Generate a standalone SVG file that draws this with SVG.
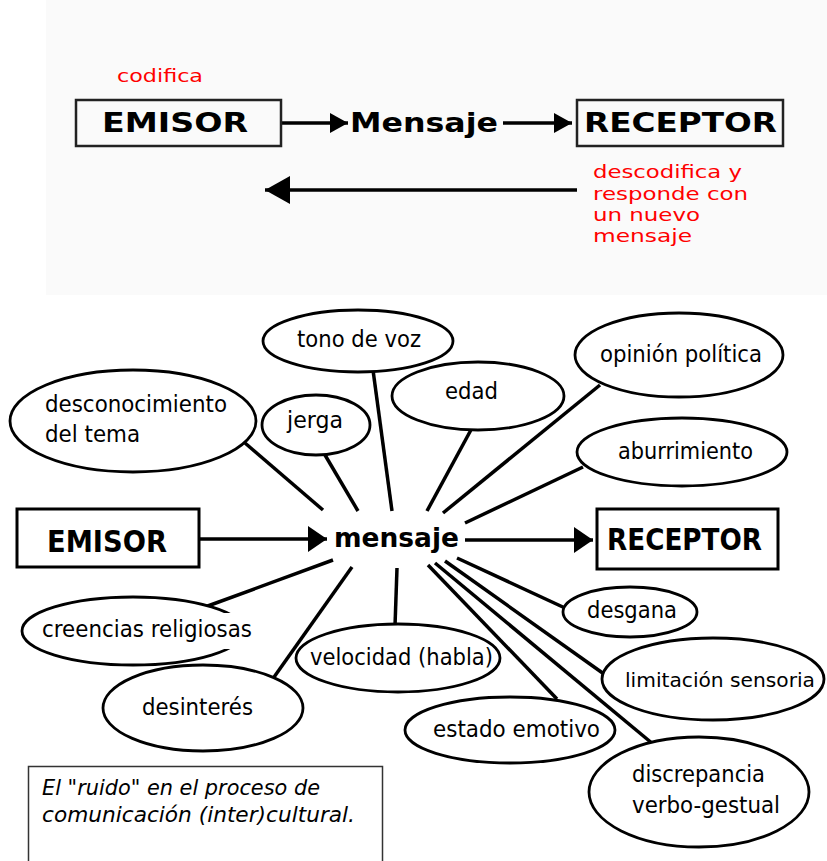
<svg xmlns="http://www.w3.org/2000/svg" width="827" height="861" viewBox="0 0 827 861">
<style>
.bg{fill:#ffffff}
.panel{fill:#fafafa}
.box{fill:none;stroke:#222;stroke-width:2.5}
.box2{fill:#fff;stroke:#000;stroke-width:3}
.ell{fill:#fff;stroke:#000;stroke-width:2.8}
.ln{stroke:#000;stroke-width:3.5;fill:none}
.ar{stroke:#000;stroke-width:3.5;fill:none}
.lbl{font-family:"DejaVu Sans","Verdana",sans-serif;font-size:22.5px;fill:#000}
.bold{font-family:"DejaVu Sans","Verdana",sans-serif;font-weight:bold;fill:#000}
.red{font-family:"DejaVu Sans","Verdana",sans-serif;font-size:18px;fill:#ff0000}
.cap{font-family:"DejaVu Sans","Verdana",sans-serif;font-style:italic;font-size:21px;fill:#000}
</style>
<defs>
<marker id="ahs" markerUnits="userSpaceOnUse" markerWidth="18" markerHeight="20" refX="18" refY="10" orient="auto"><path d="M0,0 L18,10 L0,20 Z" fill="#000"/></marker>
<marker id="ahb" markerUnits="userSpaceOnUse" markerWidth="19" markerHeight="26" refX="19" refY="13" orient="auto"><path d="M0,0 L19,13 L0,26 Z" fill="#000"/></marker>
<marker id="ahl" markerUnits="userSpaceOnUse" markerWidth="25" markerHeight="28" refX="25" refY="14" orient="auto"><path d="M0,0 L25,14 L0,28 Z" fill="#000"/></marker>
</defs>
<rect class="bg" x="0" y="0" width="827" height="861"/>
<rect class="panel" x="46" y="0" width="781" height="295"/>

<g id="connectors-top">
<line class="ar" x1="282" y1="123" x2="348" y2="123" marker-end="url(#ahs)"/>
<line class="ar" x1="503" y1="123" x2="572" y2="123" marker-end="url(#ahs)"/>
<line class="ar" x1="577" y1="190" x2="265" y2="190" stroke-width="4.5" marker-end="url(#ahl)"/>
</g>
<g id="top-codifica"><text class="red" x="117" y="82" textLength="86" lengthAdjust="spacingAndGlyphs">codifica</text></g>
<g id="top-emisor">
<rect class="box" x="76" y="100" width="205" height="46"/>
<text class="bold" x="102" y="132" font-size="26" textLength="146" lengthAdjust="spacingAndGlyphs">EMISOR</text>
</g>
<g id="top-mensaje"><text class="bold" x="350" y="132" font-size="26" textLength="148" lengthAdjust="spacingAndGlyphs">Mensaje</text></g>
<g id="top-receptor">
<rect class="box" x="577" y="100" width="206" height="46"/>
<text class="bold" x="584" y="132" font-size="26" textLength="193" lengthAdjust="spacingAndGlyphs">RECEPTOR</text>
</g>
<g id="top-descodifica">
<text class="red" x="593" y="178" textLength="149" lengthAdjust="spacingAndGlyphs">descodifica y</text>
<text class="red" x="593" y="200" textLength="155" lengthAdjust="spacingAndGlyphs">responde con</text>
<text class="red" x="593" y="221" textLength="107" lengthAdjust="spacingAndGlyphs">un nuevo</text>
<text class="red" x="593" y="242" textLength="99" lengthAdjust="spacingAndGlyphs">mensaje</text>
</g>

<g id="connectors">
<line class="ar" x1="199" y1="539" x2="327" y2="539" marker-end="url(#ahb)"/>
<line class="ar" x1="465" y1="540" x2="593" y2="540" marker-end="url(#ahb)"/>
<line class="ln" x1="323" y1="510" x2="245" y2="443"/>
<line class="ln" x1="358" y1="511" x2="325" y2="455"/>
<line class="ln" x1="392" y1="511" x2="373" y2="370"/>
<line class="ln" x1="427" y1="511" x2="472" y2="428"/>
<line class="ln" x1="443" y1="513" x2="600" y2="385"/>
<line class="ln" x1="465" y1="523" x2="583" y2="467"/>
<line class="ln" x1="333" y1="560" x2="205" y2="607"/>
<line class="ln" x1="352" y1="567" x2="267" y2="687"/>
<line class="ln" x1="397" y1="568" x2="395" y2="626"/>
<line class="ln" x1="428" y1="565" x2="557" y2="699"/>
<line class="ln" x1="435" y1="563" x2="653" y2="744"/>
<line class="ln" x1="445" y1="561" x2="604" y2="674"/>
<line class="ln" x1="457" y1="558" x2="565" y2="608"/>
</g>

<g id="emisor">
<rect class="box2" x="17" y="509" width="182" height="58"/>
<text class="bold" x="47" y="552" font-size="30" textLength="120" lengthAdjust="spacingAndGlyphs">EMISOR</text>
</g>
<g id="mensaje"><text class="bold" x="334" y="547" font-size="27" textLength="125" lengthAdjust="spacingAndGlyphs">mensaje</text></g>
<g id="receptor">
<rect class="box2" x="597" y="509" width="181" height="60"/>
<text class="bold" x="607" y="550" font-size="30" textLength="155" lengthAdjust="spacingAndGlyphs">RECEPTOR</text>
</g>

<g id="tono-de-voz">
<ellipse class="ell" cx="358" cy="341" rx="95" ry="31"/>
<text class="lbl" x="297" y="347" textLength="124" lengthAdjust="spacingAndGlyphs">tono de voz</text>
</g>
<g id="desconocimiento">
<ellipse class="ell" cx="133" cy="421" rx="123" ry="51"/>
<text class="lbl" x="45" y="412" textLength="182" lengthAdjust="spacingAndGlyphs">desconocimiento</text>
<text class="lbl" x="45" y="442" textLength="95" lengthAdjust="spacingAndGlyphs">del tema</text>
</g>
<g id="jerga">
<ellipse class="ell" cx="316" cy="425" rx="54" ry="30"/>
<text class="lbl" x="287" y="428" textLength="56" lengthAdjust="spacingAndGlyphs">jerga</text>
</g>
<g id="edad">
<ellipse class="ell" cx="478" cy="396" rx="86" ry="34"/>
<text class="lbl" x="445" y="399" textLength="53" lengthAdjust="spacingAndGlyphs">edad</text>
</g>
<g id="opinion">
<ellipse class="ell" cx="679" cy="355" rx="104" ry="42"/>
<text class="lbl" x="600" y="362" textLength="162" lengthAdjust="spacingAndGlyphs">opinión política</text>
</g>
<g id="aburrimiento">
<ellipse class="ell" cx="682" cy="452" rx="105" ry="34"/>
<text class="lbl" x="618" y="459" textLength="135" lengthAdjust="spacingAndGlyphs">aburrimiento</text>
</g>
<g id="creencias">
<ellipse class="ell" cx="133" cy="631" rx="111" ry="34"/>
<rect x="221" y="613" width="34" height="36" fill="#fff"/>
<text class="lbl" x="42" y="637" textLength="210" lengthAdjust="spacingAndGlyphs">creencias religiosas</text>
</g>
<g id="velocidad">
<ellipse class="ell" cx="398" cy="658" rx="102" ry="34"/>
<text class="lbl" x="310" y="665" textLength="183" lengthAdjust="spacingAndGlyphs">velocidad (habla)</text>
</g>
<g id="desinteres">
<ellipse class="ell" cx="203" cy="708" rx="100" ry="43"/>
<text class="lbl" x="142" y="715" textLength="111" lengthAdjust="spacingAndGlyphs">desinterés</text>
</g>
<g id="desgana">
<ellipse class="ell" cx="630" cy="612" rx="67" ry="25"/>
<text class="lbl" x="587" y="618" textLength="90" lengthAdjust="spacingAndGlyphs">desgana</text>
</g>
<g id="limitacion">
<ellipse class="ell" cx="713" cy="679" rx="111" ry="41"/>
<text class="lbl" x="625" y="687" style="font-size:20px" textLength="190" lengthAdjust="spacingAndGlyphs">limitación sensoria</text>
</g>
<g id="estado-emotivo">
<ellipse class="ell" cx="510" cy="730" rx="105" ry="33"/>
<text class="lbl" x="433" y="737" textLength="167" lengthAdjust="spacingAndGlyphs">estado emotivo</text>
</g>
<g id="discrepancia">
<ellipse class="ell" cx="699" cy="792" rx="110" ry="55"/>
<text class="lbl" x="632" y="782" textLength="133" lengthAdjust="spacingAndGlyphs">discrepancia</text>
<text class="lbl" x="632" y="813" textLength="148" lengthAdjust="spacingAndGlyphs">verbo-gestual</text>
</g>

<g id="caption">
<rect x="28.5" y="766.5" width="354" height="100" fill="#fff" stroke="#333" stroke-width="1.5"/>
<text class="cap" x="42" y="795" textLength="278" lengthAdjust="spacingAndGlyphs">El "ruido" en el proceso de</text>
<text class="cap" x="42" y="822" textLength="313" lengthAdjust="spacingAndGlyphs">comunicación (inter)cultural.</text>
</g>
</svg>
